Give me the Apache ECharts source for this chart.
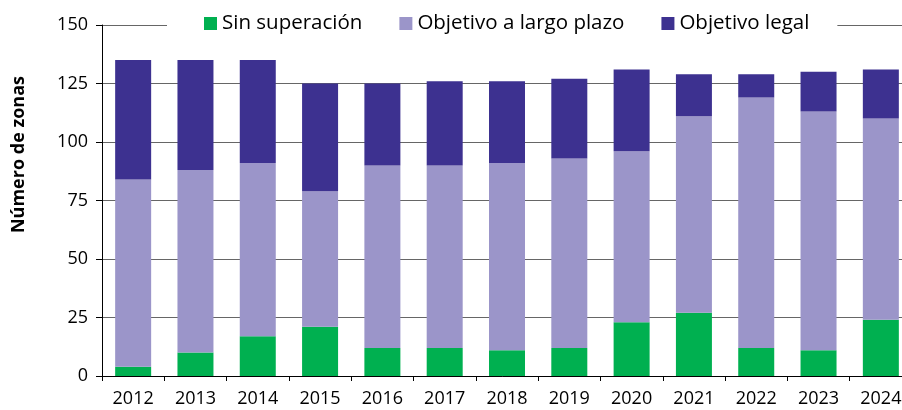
<!DOCTYPE html>
<html>
<head>
<meta charset="utf-8">
<script src="https://cdn.jsdelivr.net/npm/echarts@6/dist/echarts.min.js"></script>
<style>
  html, body { margin: 0; padding: 0; background: #fff; }
  #chart { width: 902px; height: 410px; }
</style>
</head>
<body>
<div id="chart"></div>
<script>
const years = ['2012','2013','2014','2015','2016','2017','2018','2019','2020','2021','2022','2023','2024']
const sinSuperacion = [4, 10, 17, 21, 12, 12, 11, 12, 23, 27, 12, 11, 24]
const largoPlazo = [80, 78, 74, 58, 78, 78, 80, 81, 73, 84, 107, 102, 86]
const objetivoLegal = [51, 47, 44, 46, 35, 36, 35, 34, 35, 18, 10, 17, 21]

const font = '"Open Sans", sans-serif'
const chart = echarts.init(document.getElementById('chart'))

chart.setOption({
  animation: false,
  textStyle: { fontFamily: font },
  // plot runs past the right edge, the source image is cropped there
  grid: { left: 102, width: 810, top: 25, bottom: 34, outerBoundsMode: 'none', containLabel: false },
  legend: {
    left: 167,
    top: 7,
    padding: [6, 28, 6, 37],
    backgroundColor: '#fff',
    itemWidth: 13,
    itemHeight: 13,
    itemGap: 37,
    icon: 'rect',
    textStyle: { fontSize: 20.5, color: '#000', fontFamily: font },
    data: ['Sin superación', 'Objetivo a largo plazo', 'Objetivo legal']
  },
  xAxis: {
    type: 'category',
    data: years,
    axisLine: { lineStyle: { color: '#000', width: 1 } },
    axisTick: { show: true, length: 5, lineStyle: { color: '#000' } },
    axisLabel: { fontSize: 18, color: '#000', margin: 14 }
  },
  yAxis: {
    type: 'value',
    min: 0,
    max: 150,
    interval: 25,
    name: 'Número de zonas',
    nameLocation: 'middle',
    nameGap: 74,
    nameTextStyle: { fontSize: 18, fontWeight: 'bold', color: '#000', padding: [0, 0, 0, 92] },
    axisLine: { show: true, lineStyle: { color: '#000', width: 1 } },
    axisTick: { show: true, length: 6, lineStyle: { color: '#000' } },
    axisLabel: { fontSize: 18, color: '#000', margin: 14 },
    splitLine: { lineStyle: { color: '#666', width: 1 } }
  },
  series: [
    {
      name: 'Sin superación',
      type: 'bar',
      stack: 'total',
      barWidth: 36,
      itemStyle: { color: '#00b050' },
      data: sinSuperacion
    },
    {
      name: 'Objetivo a largo plazo',
      type: 'bar',
      stack: 'total',
      barWidth: 36,
      itemStyle: { color: '#9b95c9' },
      data: largoPlazo
    },
    {
      name: 'Objetivo legal',
      type: 'bar',
      stack: 'total',
      barWidth: 36,
      itemStyle: { color: '#3d3190' },
      data: objetivoLegal
    }
  ]
})
</script>
</body>
</html>
